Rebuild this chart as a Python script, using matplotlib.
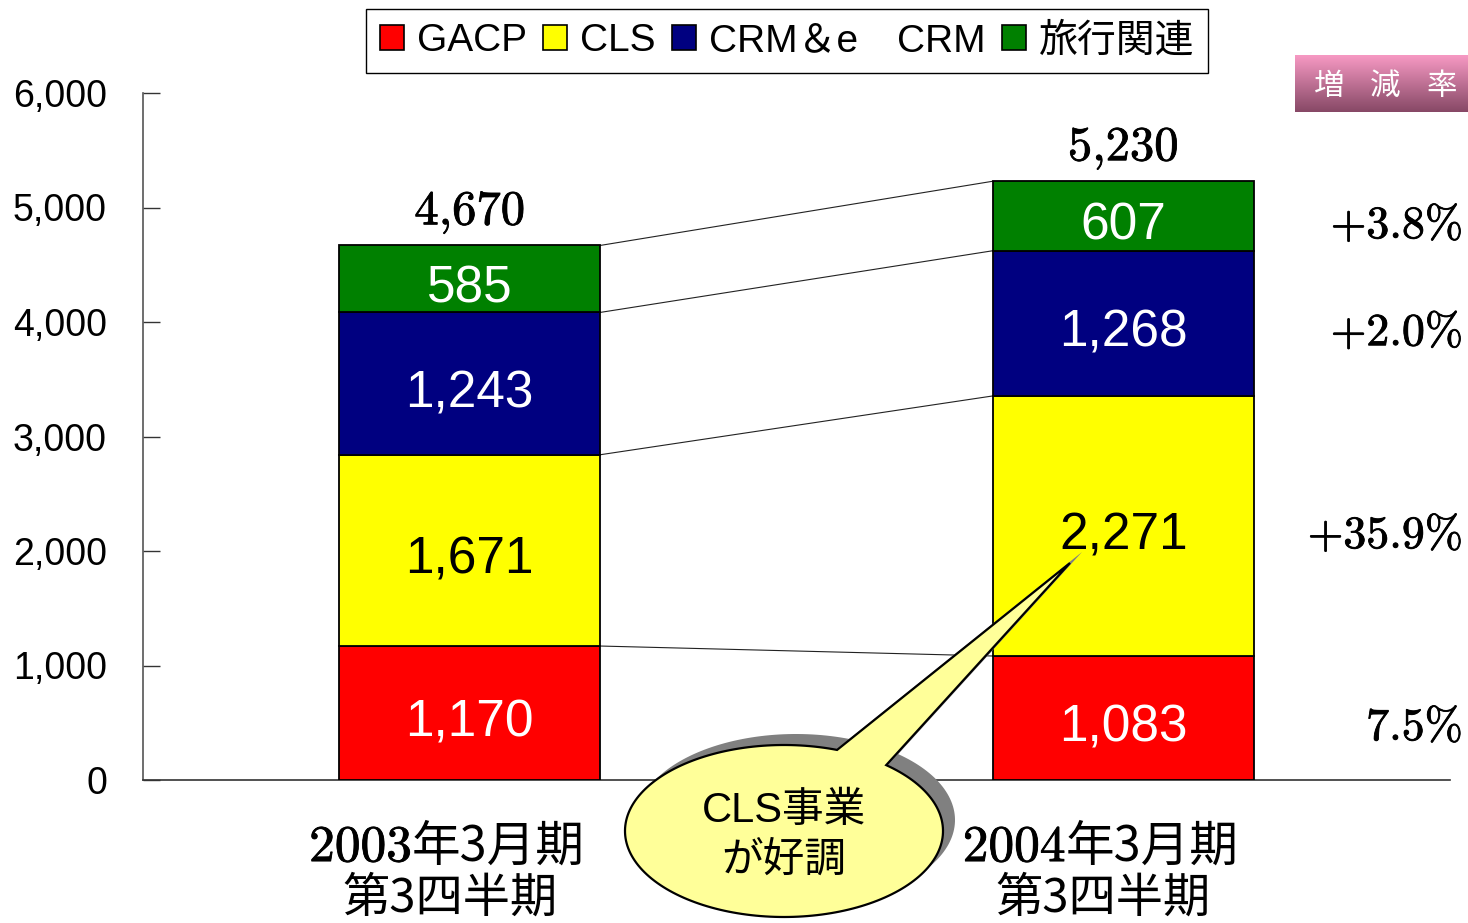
import numpy as np
import matplotlib
matplotlib.use("Agg")
import matplotlib.pyplot as plt
from matplotlib import transforms
from matplotlib import patheffects as pe
from matplotlib.patches import PathPatch, Rectangle
from matplotlib.path import Path
from matplotlib.font_manager import FontProperties

# ---------------- data ----------------
period_years = ["2003", "2004"]
period_suffix = "年3月期"
period_line2 = "第3四半期"
series_names = ["GACP", "CLS", "CRM＆e\u3000CRM", "旅行関連"]
series_colors = ["#ff0000", "#ffff00", "#000080", "#008000"]
label_colors = ["white", "black", "white", "white"]
gacp = [1170, 1083]
cls = [1671, 2271]
crm = [1243, 1268]
travel = [585, 607]
totals = [4670, 5230]
change_rates = ["7.5%", "+35.9%", "+2.0%", "+3.8%"]
y_ticks = [0, 1000, 2000, 3000, 4000, 5000, 6000]
rate_header = ["増", "減", "率"]
callout_lines = "CLS事業\nが好調"

SANS = ["Liberation Sans", "Noto Sans CJK JP"]
CJK = ["Noto Sans CJK JP"]
SERIF = ["cmr10"]
BOLDEN = [pe.withStroke(linewidth=0.6, foreground="black")]

W, H = 1468, 923
fig = plt.figure(figsize=(W / 100, H / 100), dpi=100)
fig.patch.set_facecolor("white")

ax = fig.add_axes([143 / W, 143 / H, 1307 / W, 687 / H])
x = np.arange(len(period_years))
bw = 0.4
series = [gacp, cls, crm, travel]
bottoms = np.zeros(len(x))
tops_list = []
lab_tr = transforms.offset_copy(ax.transData, fig=fig, x=0, y=-10, units="dots")
for vals, col, lc in zip(series, series_colors, label_colors):
    vals = np.array(vals, dtype=float)
    ax.bar(x, vals, bw, bottom=bottoms, color=col, edgecolor="black",
           linewidth=1.3, zorder=3)
    for xi, v, b in zip(x, vals, bottoms):
        ax.text(xi, b + v / 2, f"{int(v):,}", ha="center", va="center",
                color=lc, fontsize=37, family=SANS, zorder=5, transform=lab_tr)
    bottoms = bottoms + vals
    tops_list.append(bottoms.copy())

# connecting lines
for tops in tops_list:
    ax.plot([x[0] + bw / 2, x[1] - bw / 2], [tops[0], tops[1]],
            color="#222222", lw=0.8, zorder=2)

# totals
for xi, tot, top in zip(x, totals, bottoms):
    ax.annotate(f"{tot:,}", xy=(xi, top), xytext=(0, 8),
                textcoords="offset points", ha="center", va="bottom",
                fontsize=35, family=SERIF, zorder=5, path_effects=BOLDEN)

# change rates (right side, aligned to second bar segments)
prev = 0.0
rate_tr = transforms.offset_copy(
    transforms.blended_transform_factory(ax.transAxes, ax.transData),
    fig=fig, x=13, y=-10, units="dots")
for vals, rate in zip(series, change_rates):
    mid = prev + vals[1] / 2
    ax.text(1.0, mid, rate, ha="right", va="center", fontsize=33,
            family=SERIF, transform=rate_tr, clip_on=False, path_effects=BOLDEN)
    prev += vals[1]

ax.set_xlim(-0.5, 1.5)
ax.set_ylim(0, 6000)
ax.set_yticks(y_ticks)
ax.set_yticklabels([f"{v:,}" for v in y_ticks])
ax.set_xticks([])
for lbl in ax.get_yticklabels():
    lbl.set_family(SANS)
    lbl.set_fontsize(27)
ax.tick_params(axis="y", direction="in", length=12, width=1.0, pad=26,
               color="#333333")
for s in ["top", "right"]:
    ax.spines[s].set_visible(False)
ax.spines["left"].set_color("#555555")
ax.spines["bottom"].set_color("#333333")
ax.spines["left"].set_linewidth(1.2)
ax.spines["bottom"].set_linewidth(1.2)

# category labels
blend = transforms.blended_transform_factory(ax.transData, ax.transAxes)
for xi, yr in zip(x, period_years):
    split = transforms.offset_copy(blend, fig=fig, x=-58, units="dots")
    ax.text(xi, -0.118, yr, ha="right", va="baseline", fontsize=37,
            family=SERIF, transform=split, clip_on=False, path_effects=BOLDEN)
    ax.text(xi, -0.118, period_suffix, ha="left", va="baseline", fontsize=35,
            family=CJK, transform=split, clip_on=False)
    l2 = transforms.offset_copy(blend, fig=fig, x=-20, units="dots")
    ax.text(xi, -0.191, period_line2, ha="center", va="baseline", fontsize=34,
            family=CJK, transform=l2, clip_on=False)

# legend
handles = [Rectangle((0, 0), 1, 1, facecolor=c, edgecolor="black", linewidth=1.2)
           for c in series_colors]
leg = fig.legend(handles, series_names, loc="center",
                 bbox_to_anchor=(787 / W, 1 - 41 / H), ncol=4, frameon=True,
                 fancybox=False, edgecolor="black", framealpha=1,
                 prop=FontProperties(family=SANS, size=28),
                 handlelength=0.62, handleheight=0.62, handletextpad=0.33,
                 columnspacing=0.42, borderpad=0.35, borderaxespad=0)
leg.get_frame().set_linewidth(1.0)

# rate header box with gradient
gax = fig.add_axes([1295 / W, 1 - 112 / H, 173 / W, 57 / H])
top_c = np.array([0.965, 0.60, 0.765])
bot_c = np.array([0.53, 0.285, 0.40])
t = np.linspace(0, 1, 64)[:, None]
grad = (top_c[None, :] * (1 - t) + bot_c[None, :] * t)[:, None, :]
gax.imshow(np.repeat(grad, 2, axis=1), aspect="auto", extent=(0, 1, 0, 1))
gax.set_xlim(0, 1)
gax.set_ylim(0, 1)
gax.axis("off")
for xf, ch in zip([0.197, 0.52, 0.849], rate_header):
    gax.text(xf, 0.44, ch, ha="center", va="center", color="white",
             fontsize=22, family=CJK)

# callout bubble (pixel overlay)
pax = fig.add_axes([0, 0, 1, 1], zorder=10)
pax.set_xlim(0, W)
pax.set_ylim(H, 0)
pax.axis("off")
cx, cy, a, b = 784, 831, 159, 86
tip = (1070, 563)
t0 = np.deg2rad(-50)
t1 = np.deg2rad(289.5)
ts = np.linspace(t0, t1, 200)
pts = np.column_stack([cx + a * np.cos(ts), cy + b * np.sin(ts)])
pts = np.vstack([pts, tip, pts[0]])
codes = [Path.MOVETO] + [Path.LINETO] * (len(pts) - 2) + [Path.CLOSEPOLY]
shadow = PathPatch(Path(pts + np.array([12, -11]), codes), facecolor="#808080",
                   edgecolor="none")
pax.add_patch(shadow)
bubble = PathPatch(Path(pts, codes), facecolor="#ffff99", edgecolor="black",
                   linewidth=1.6, joinstyle="miter")
pax.add_patch(bubble)
pax.text(cx, 836, callout_lines, ha="center", va="center", fontsize=30,
         family=SANS, linespacing=1.3)

fig.savefig("out.png", dpi=100, facecolor="white")
